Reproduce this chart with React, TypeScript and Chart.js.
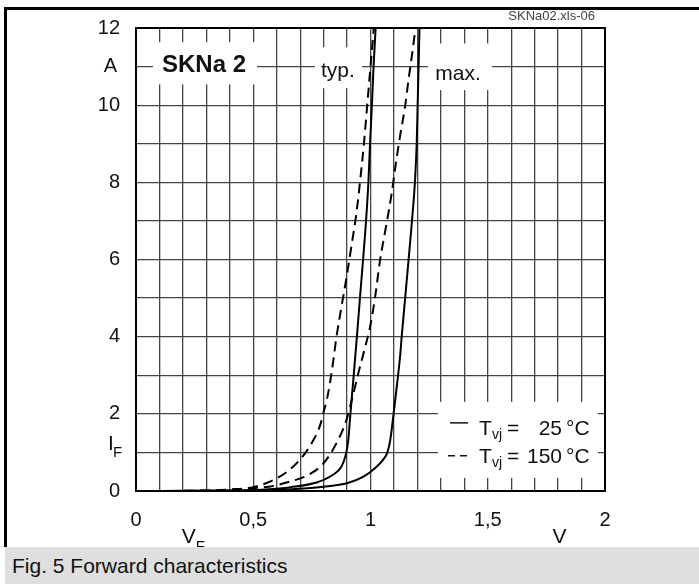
import React, { useEffect, useRef } from 'react';
import { Chart, registerables } from 'chart.js';

Chart.register(...registerables);

const FONT = '"Liberation Sans", Arial, Helvetica, sans-serif';

// ---- data: forward voltage V_F (V) and forward current I_F (A) ----
const typ150V = [0.0, 0.3, 0.4, 0.5, 0.57, 0.64, 0.7, 0.75, 0.785, 0.8, 0.815, 0.835, 0.855, 0.877, 0.898, 0.92, 0.941, 0.955, 0.972, 0.986, 1.0, 1.014];
const typ150I = [0.0, 0.01, 0.04, 0.1, 0.24, 0.48, 0.82, 1.25, 1.7, 2.05, 2.4, 3.1, 4.0, 4.8, 5.55, 6.4, 7.25, 8.0, 9.0, 10.0, 11.0, 12.0];

const typ25V = [0.0, 0.4, 0.55, 0.66, 0.77, 0.84, 0.875, 0.893, 0.905, 0.913, 0.927, 0.942, 0.955, 0.969, 0.981, 0.991, 0.998, 1.006, 1.013, 1.022];
const typ25I = [0.0, 0.01, 0.04, 0.1, 0.22, 0.42, 0.62, 0.9, 1.3, 1.9, 2.9, 4.0, 5.0, 6.05, 7.0, 8.0, 9.0, 10.0, 11.0, 12.0];

const max150V = [0.0, 0.35, 0.47, 0.585, 0.66, 0.73, 0.8, 0.86, 0.898, 0.92, 0.948, 0.978, 0.998, 1.019, 1.04, 1.066, 1.09, 1.106, 1.126, 1.147, 1.163, 1.178, 1.192];
const max150I = [0.0, 0.01, 0.06, 0.13, 0.25, 0.4, 0.72, 1.3, 1.85, 2.35, 3.05, 3.75, 4.25, 5.0, 5.95, 6.85, 7.7, 8.4, 9.2, 9.95, 10.7, 11.35, 12.0];

const max25V = [0.0, 0.5, 0.65, 0.8, 0.9, 0.97, 1.026, 1.055, 1.072, 1.085, 1.097, 1.112, 1.126, 1.133, 1.147, 1.161, 1.176, 1.19, 1.197, 1.201, 1.205, 1.209];
const max25I = [0.0, 0.01, 0.04, 0.11, 0.2, 0.37, 0.63, 0.82, 1.0, 1.35, 1.93, 2.7, 3.48, 4.0, 4.95, 5.9, 6.94, 8.06, 9.0, 10.0, 11.0, 12.0];

const xLabelValues = [0, 0.5, 1, 1.5, 2];
const yLabelValues = [0, 2, 4, 6, 8, 10, 12];

const TITLE = 'SKNa 2';
const FILE_ID = 'SKNa02.xls-06';
const CAPTION = 'Fig. 5 Forward characteristics';
const legendRows = [
  { dashed: false, value: '25' },
  { dashed: true, value: '150' },
];

const pts = (xs: number[], ys: number[]) => xs.map((v, i) => ({ x: v, y: ys[i] }));

// boxes (in axis units) that blank the grid behind texts
const BOXES = [
  { x0: 0.0725, x1: 0.516, y0: 11.63, y1: 10.54 },
  { x0: 0.763, x1: 0.964, y0: 11.5, y1: 10.44 },
  { x0: 1.245, x1: 1.518, y0: 11.6, y1: 10.39 },
  { x0: 1.288, x1: 1.97, y0: 2.31, y1: 0.34 },
];

const isLabel = (v: number, list: number[]) => list.some((l) => Math.abs(l - v) < 1e-6);

const deco = {
  id: 'deco',
  beforeDatasetsDraw(chart: any) {
    const { ctx, chartArea: ca, scales } = chart;
    const px = (v: number) => scales.x.getPixelForValue(v);
    const py = (v: number) => scales.y.getPixelForValue(v);
    ctx.save();
    ctx.fillStyle = '#ffffff';
    for (const b of BOXES) {
      ctx.fillRect(px(b.x0), py(b.y0), px(b.x1) - px(b.x0), py(b.y1) - py(b.y0));
    }
    ctx.fillStyle = '#111';
    ctx.textBaseline = 'alphabetic';

    // title and typ./max.
    ctx.textAlign = 'center';
    ctx.font = `bold 24px ${FONT}`;
    ctx.fillText(TITLE, px(0.29), py(10.85));
    ctx.font = `21px ${FONT}`;
    ctx.fillText('typ.', px(0.861), py(10.73));
    ctx.fillText('max.', px(1.373), py(10.65));

    // file id
    ctx.font = `13px ${FONT}`;
    ctx.fillStyle = '#444';
    ctx.textAlign = 'right';
    ctx.fillText(FILE_ID, ca.right - 10, ca.top - 8);

    // axis unit labels
    ctx.fillStyle = '#111';
    ctx.font = `20px ${FONT}`;
    ctx.textAlign = 'right';
    ctx.textBaseline = 'middle';
    ctx.fillText('A', ca.left - 19, py(11));
    ctx.textBaseline = 'alphabetic';
    ctx.textAlign = 'left';
    ctx.font = `21px ${FONT}`;
    ctx.fillText('I', ca.left - 28, py(1) - 2);
    ctx.font = `15px ${FONT}`;
    ctx.fillText('F', ca.left - 23, py(1) + 5);
    ctx.font = `21px ${FONT}`;
    ctx.fillText('V', px(0.195), ca.bottom + 52);
    ctx.font = `15px ${FONT}`;
    ctx.fillText('F', px(0.195) + 14, ca.bottom + 60);
    ctx.font = `21px ${FONT}`;
    ctx.textAlign = 'center';
    ctx.fillText('V', px(1.806), ca.bottom + 52);

    // legend
    const lx = px(1.288);
    const ly = py(2.31);
    legendRows.forEach((r, i) => {
      const base = ly + 33 + i * 28;
      const lineY = ly + 21 + i * 33;
      ctx.strokeStyle = '#111';
      ctx.lineWidth = 1.5;
      ctx.beginPath();
      if (r.dashed) {
        ctx.moveTo(lx + 10, lineY); ctx.lineTo(lx + 17, lineY);
        ctx.moveTo(lx + 22, lineY); ctx.lineTo(lx + 29, lineY);
      } else {
        ctx.moveTo(lx + 12, lineY); ctx.lineTo(lx + 30, lineY);
      }
      ctx.stroke();
      ctx.textAlign = 'left';
      ctx.font = `21px ${FONT}`;
      ctx.fillText('T', lx + 41, base);
      ctx.font = `14px ${FONT}`;
      ctx.fillText('vj', lx + 54, base + 4);
      ctx.font = `21px ${FONT}`;
      ctx.fillText('=', lx + 69, base);
      ctx.textAlign = 'right';
      ctx.fillText(r.value, lx + 124, base);
      ctx.textAlign = 'left';
      ctx.fillText('°C', lx + 128, base);
    });
    ctx.restore();
  },
  afterDatasetsDraw(chart: any) {
    const { ctx, chartArea: ca } = chart;
    ctx.save();
    ctx.strokeStyle = '#000';
    ctx.lineWidth = 2;
    ctx.strokeRect(ca.left, ca.top, ca.right - ca.left, ca.bottom - ca.top);
    ctx.restore();
  },
};

export default function App() {
  const ref = useRef<HTMLCanvasElement | null>(null);

  useEffect(() => {
    if (!ref.current) return;
    const line = (data: any[], dashed: boolean) => ({
      data,
      showLine: true,
      borderColor: '#000',
      borderWidth: 2,
      borderDash: dashed ? [10, 6] : [],
      pointRadius: 0,
      cubicInterpolationMode: 'monotone' as const,
      fill: false,
    });
    const chart = new Chart(ref.current, {
      type: 'scatter',
      data: {
        datasets: [
          line(pts(typ150V, typ150I), true),
          line(pts(typ25V, typ25I), false),
          line(pts(max150V, max150I), true),
          line(pts(max25V, max25I), false),
        ],
      },
      options: {
        animation: false,
        responsive: false,
        devicePixelRatio: 1,
        layout: { padding: { left: 0, top: 28, right: 94, bottom: 0 } },
        plugins: { legend: { display: false }, tooltip: { enabled: false } },
        scales: {
          x: {
            type: 'linear',
            min: 0,
            max: 2,
            afterFit: (s: any) => { s.height = 56; },
            grid: { color: '#444', lineWidth: 1.3, drawTicks: false },
            border: { display: false },
            ticks: {
              stepSize: 0.1,
              autoSkip: false,
              maxRotation: 0,
              padding: 17,
              color: '#111',
              font: { family: FONT, size: 20 },
              callback: (v: any) => (isLabel(Number(v), xLabelValues) ? String(Math.round(Number(v) * 10) / 10).replace('.', ',') : ''),
            },
          },
          y: {
            type: 'linear',
            min: 0,
            max: 12,
            afterFit: (s: any) => { s.width = 136; },
            grid: { color: '#444', lineWidth: 1.3, drawTicks: false },
            border: { display: false },
            ticks: {
              stepSize: 1,
              autoSkip: false,
              padding: 16,
              color: '#111',
              font: { family: FONT, size: 20 },
              callback: (v: any) => (isLabel(Number(v), yLabelValues) ? String(v) : ''),
            },
          },
        },
      },
      plugins: [deco],
    });
    return () => chart.destroy();
  }, []);

  return (
    <div style={{ position: 'fixed', left: 0, top: 0, width: 699, height: 584, background: '#fff', overflow: 'hidden' }}>
      <div style={{ position: 'absolute', left: 4, top: 7, width: 695, height: 540, borderTop: '3px solid #000', borderLeft: '3px solid #000', boxSizing: 'border-box' }} />
      <canvas ref={ref} width={699} height={547} style={{ position: 'absolute', left: 0, top: 0, width: 699, height: 547 }} />
      <div style={{ position: 'absolute', left: 5, top: 547, width: 694, height: 37, background: '#dfdfdf', font: `21px ${FONT}`, lineHeight: '37px', paddingLeft: 7, boxSizing: 'border-box', color: '#111' }}>{CAPTION}</div>
    </div>
  );
}
